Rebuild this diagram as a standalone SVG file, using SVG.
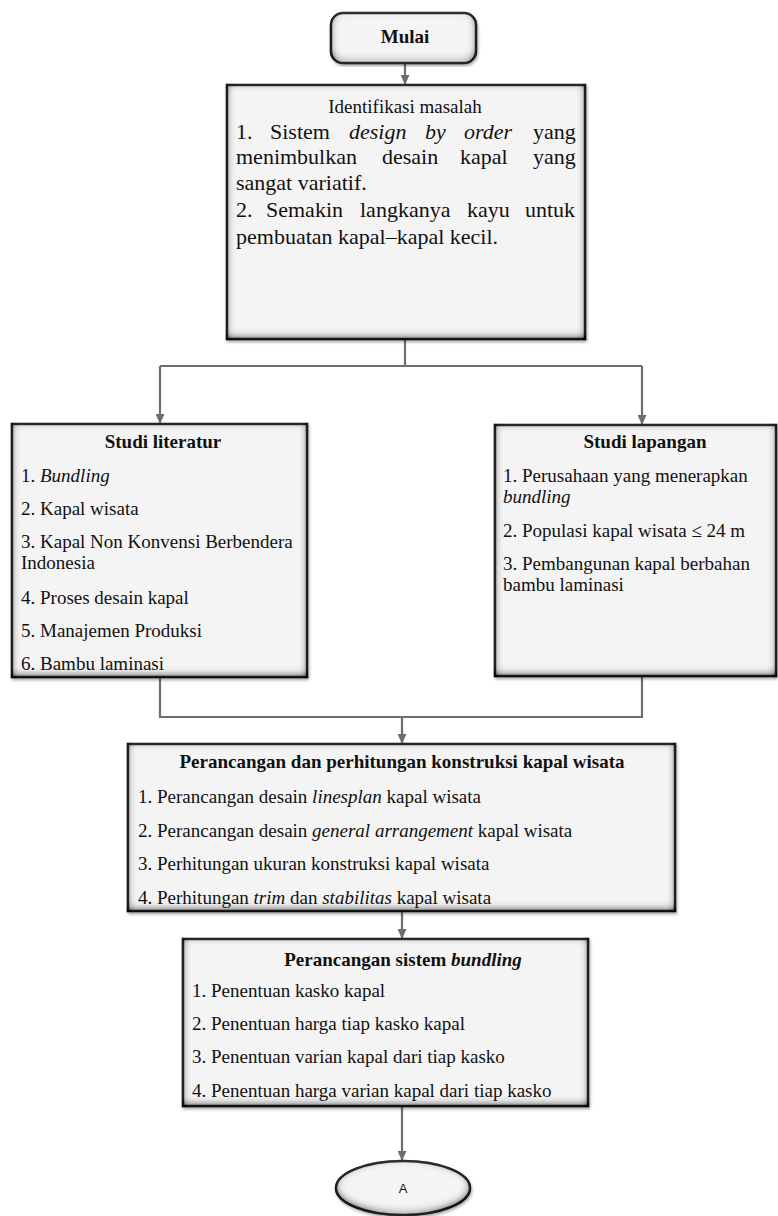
<svg xmlns="http://www.w3.org/2000/svg" width="778" height="1216" viewBox="0 0 778 1216">
<style>
  .box{fill:#f4f4f4;stroke:#333333;stroke-width:2.4;filter:url(#inner)}
  .t{font-family:"Liberation Serif","Times New Roman",serif;font-size:19px;fill:#111}
  .b{font-weight:bold}
  .big{font-size:22px}
  .i{font-style:italic}
  .c{text-anchor:middle}
  .conn{stroke:#6e6e6e;stroke-width:2.2;fill:none}
</style>
<defs>
  <filter id="inner" x="-6%" y="-8%" width="112%" height="116%">
    <feFlood flood-color="#000" flood-opacity="1" result="f"/>
    <feComposite in="f" in2="SourceAlpha" operator="out" result="o"/>
    <feOffset in="o" dx="0" dy="-2" result="oo"/>
    <feGaussianBlur in="oo" stdDeviation="5" result="bl"/>
    <feComposite in="bl" in2="SourceAlpha" operator="in" result="sh"/>
    <feComponentTransfer in="sh" result="sh2"><feFuncA type="linear" slope="1.4"/></feComponentTransfer>
    <feGaussianBlur in="SourceAlpha" stdDeviation="1.5" result="ds"/>
    <feOffset in="ds" dx="1" dy="1.5" result="ds2"/>
    <feComponentTransfer in="ds2" result="ds3"><feFuncA type="linear" slope="0.35"/></feComponentTransfer>
    <feMerge><feMergeNode in="ds3"/><feMergeNode in="SourceGraphic"/><feMergeNode in="sh2"/></feMerge>
  </filter>
  <marker id="arr" markerUnits="userSpaceOnUse" markerWidth="11" markerHeight="9" refX="10" refY="4.5" orient="auto">
    <path d="M0,0 L10,4.5 L0,9 Z" fill="#6e6e6e"/>
  </marker>
</defs>

<g id="connectors">
  <line class="conn" x1="405" y1="63" x2="405" y2="85" marker-end="url(#arr)"/>
  <polyline class="conn" points="405,339 405,366"/>
  <polyline class="conn" points="160,366 642,366"/>
  <line class="conn" x1="160" y1="366" x2="160" y2="424" marker-end="url(#arr)"/>
  <line class="conn" x1="642" y1="366" x2="642" y2="425" marker-end="url(#arr)"/>
  <polyline class="conn" points="160,677 160,717 642,717 642,676"/>
  <line class="conn" x1="402" y1="717" x2="402" y2="744" marker-end="url(#arr)"/>
  <line class="conn" x1="402" y1="911" x2="402" y2="939" marker-end="url(#arr)"/>
  <line class="conn" x1="402" y1="1106" x2="402" y2="1161" marker-end="url(#arr)"/>
</g>

<g id="mulai">
  <rect class="box" x="331" y="13" width="145" height="50" rx="12"/>
  <text class="t b c" x="405" y="43">Mulai</text>
</g>

<g id="identifikasi">
  <rect class="box" x="227" y="85" width="358" height="254"/>
  <text class="t c" x="405" y="113">Identifikasi masalah</text>
  <g class="t big">
    <text x="236" y="139">1.</text><text x="270" y="139">Sistem</text><text class="i" x="349" y="139">design</text><text class="i" x="425" y="139">by</text><text class="i" x="464" y="139">order</text><text x="533" y="139">yang</text>
    <text x="236" y="164">menimbulkan</text><text x="382" y="164">desain</text><text x="460" y="164">kapal</text><text x="533" y="164">yang</text>
    <text x="236" y="190">sangat variatif.</text>
    <text x="236" y="217">2.</text><text x="266" y="217">Semakin</text><text x="360" y="217">langkanya</text><text x="467" y="217">kayu</text><text x="525" y="217">untuk</text>
    <text x="236" y="244">pembuatan kapal–kapal kecil.</text>
  </g>
</g>

<g id="studi-literatur">
  <rect class="box" x="12" y="424" width="295" height="253"/>
  <text class="t b c" x="163" y="448">Studi literatur</text>
  <text class="t" x="21" y="482">1. <tspan class="i">Bundling</tspan></text>
  <text class="t" x="21" y="515">2. Kapal wisata</text>
  <text class="t" x="21" y="548">3. Kapal Non Konvensi Berbendera</text>
  <text class="t" x="21" y="569">Indonesia</text>
  <text class="t" x="21" y="604">4. Proses desain kapal</text>
  <text class="t" x="21" y="637">5. Manajemen Produksi</text>
  <text class="t" x="21" y="670">6. Bambu laminasi</text>
</g>

<g id="studi-lapangan">
  <rect class="box" x="495" y="425" width="281" height="251"/>
  <text class="t b c" x="645" y="448">Studi lapangan</text>
  <text class="t" x="503" y="482">1. Perusahaan yang menerapkan</text>
  <text class="t i" x="503" y="503">bundling</text>
  <text class="t" x="503" y="537">2. Populasi kapal wisata ≤ 24 m</text>
  <text class="t" x="503" y="570">3. Pembangunan kapal berbahan</text>
  <text class="t" x="503" y="591">bambu laminasi</text>
</g>

<g id="perancangan-konstruksi">
  <rect class="box" x="128" y="744" width="547" height="167"/>
  <text class="t b c" x="402" y="768">Perancangan dan perhitungan konstruksi kapal wisata</text>
  <text class="t" x="138" y="803">1. Perancangan desain <tspan class="i">linesplan</tspan> kapal wisata</text>
  <text class="t" x="138" y="837">2. Perancangan desain <tspan class="i">general arrangement</tspan> kapal wisata</text>
  <text class="t" x="138" y="870">3. Perhitungan ukuran konstruksi kapal wisata</text>
  <text class="t" x="138" y="904">4. Perhitungan <tspan class="i">trim</tspan> dan <tspan class="i">stabilitas</tspan> kapal wisata</text>
</g>

<g id="perancangan-bundling">
  <rect class="box" x="183" y="939" width="405" height="167"/>
  <text class="t b c" x="403" y="966">Perancangan sistem <tspan class="i">bundling</tspan></text>
  <text class="t" x="192" y="997">1. Penentuan kasko kapal</text>
  <text class="t" x="192" y="1030">2. Penentuan harga tiap kasko kapal</text>
  <text class="t" x="192" y="1063">3. Penentuan varian kapal dari tiap kasko</text>
  <text class="t" x="192" y="1097">4. Penentuan harga varian kapal dari tiap kasko</text>
</g>

<g id="a">
  <ellipse class="box" cx="403" cy="1188" rx="67" ry="27"/>
  <text x="403" y="1193" text-anchor="middle" font-family="Liberation Sans, Arial, sans-serif" font-size="13" fill="#111">A</text>
</g>
</svg>
